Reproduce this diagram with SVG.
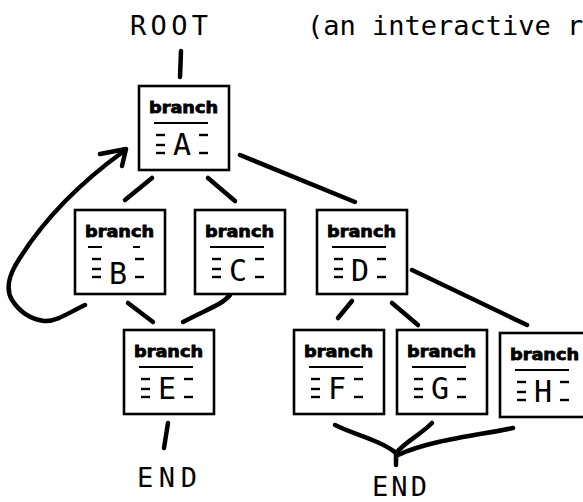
<svg xmlns="http://www.w3.org/2000/svg" xmlns:xlink="http://www.w3.org/1999/xlink" width="583" height="502" viewBox="0 0 583 502">
  <style>
    .box { fill: #fff; stroke: #000; stroke-width: 2.6; }
    .conn { fill: none; stroke: #000; stroke-width: 4.5; stroke-linecap: round; stroke-linejoin: round; }
    .dash { stroke: #000; stroke-width: 2.4; }
    .rule { stroke: #000; stroke-width: 2; }
    .big { font-family: "DejaVu Sans Mono", "Liberation Mono", monospace; font-size: 27px; fill: #000; }
    .letter { font-family: "DejaVu Sans Mono", "Liberation Mono", monospace; font-size: 30px; fill: #000; text-anchor: middle; }
    .tag { font-family: "DejaVu Sans", "Liberation Sans", sans-serif; font-weight: 900; font-size: 16px; fill: #000; stroke: #000; stroke-width: 0.8; }
  </style>
  <defs>
    <!-- card frame: border, "branch" heading and the side ticks -->
    <g id="card">
      <rect class="box" x="0" y="0" width="90" height="84"/>
      <text class="tag" x="10" y="27" textLength="69" lengthAdjust="spacingAndGlyphs">branch</text>
      <line class="dash" x1="17" y1="49" x2="26" y2="49"/>
      <line class="dash" x1="17" y1="59" x2="26" y2="59"/>
      <line class="dash" x1="17" y1="67" x2="26" y2="67"/>
      <line class="dash" x1="60" y1="49" x2="69" y2="49"/>
      <line class="dash" x1="60" y1="67" x2="69" y2="67"/>
    </g>
  </defs>

  <rect width="583" height="502" fill="#fff"/>

  <!-- headings -->
  <text class="big" x="130" y="35" textLength="78">ROOT</text>
  <text class="big" x="307" y="35">(an interactive r</text>
  <text class="big" x="137" y="487" textLength="60">END</text>
  <text class="big" x="372" y="496" textLength="55">END</text>

  <!-- connectors -->
  <g id="connectors">
    <path class="conn" d="M181,51 L180,77"/>
    <path class="conn" d="M152,178 L125,200"/>
    <path class="conn" d="M208,178 L235,201"/>
    <path class="conn" d="M240,155 L355,202"/>
    <path class="conn" d="M412,270 L527,325"/>
    <path class="conn" d="M352,301 L338,318"/>
    <path class="conn" d="M392,303 L418,325"/>
    <path class="conn" d="M128,303 L153,322"/>
    <path class="conn" d="M230,295 C222,305 205,310 183,322"/>
    <path class="conn" d="M85,305 C70,312 56,322 44,321 C30,319 19,311 12,300 C6,290 8,279 15,266 C35,232 70,190 124,151"/>
    <path class="conn" d="M100,154 L126,149 L122,166"/>
    <path class="conn" d="M168,423 L164,448"/>
    <path class="conn" d="M335,425 C355,435 380,440 396,453"/>
    <path class="conn" d="M432,423 C420,435 405,442 396,453"/>
    <path class="conn" d="M513,428 C480,435 430,440 398,455"/>
    <path class="conn" d="M396,453 L396,465"/>
  </g>

  <!-- nodes -->
  <g id="node-A" transform="translate(139,86)">
    <use xlink:href="#card"/>
    <line class="rule" x1="15" y1="37" x2="69" y2="37"/>
    <text class="letter" x="43" y="69">A</text>
  </g>
  <g id="node-B" transform="translate(75,210)">
    <use xlink:href="#card"/>
    <line class="rule" x1="13" y1="37" x2="27" y2="37"/>
    <line class="rule" x1="58" y1="37" x2="65" y2="37"/>
    <text class="letter" x="43" y="74">B</text>
  </g>
  <g id="node-C" transform="translate(195,210)">
    <use xlink:href="#card"/>
    <line class="rule" x1="15" y1="37" x2="69" y2="37"/>
    <text class="letter" x="43" y="71">C</text>
  </g>
  <g id="node-D" transform="translate(317,210)">
    <use xlink:href="#card"/>
    <line class="rule" x1="15" y1="37" x2="69" y2="37"/>
    <text class="letter" x="43" y="71">D</text>
  </g>
  <g id="node-E" transform="translate(124,330)">
    <use xlink:href="#card"/>
    <line class="rule" x1="15" y1="37" x2="69" y2="37"/>
    <text class="letter" x="43" y="69">E</text>
  </g>
  <g id="node-F" transform="translate(294,330)">
    <use xlink:href="#card"/>
    <line class="rule" x1="15" y1="37" x2="69" y2="37"/>
    <text class="letter" x="43" y="69">F</text>
  </g>
  <g id="node-G" transform="translate(397,330)">
    <use xlink:href="#card"/>
    <line class="rule" x1="15" y1="37" x2="69" y2="37"/>
    <text class="letter" x="43" y="69">G</text>
  </g>
  <g id="node-H" transform="translate(500,333)">
    <use xlink:href="#card"/>
    <line class="rule" x1="15" y1="37" x2="69" y2="37"/>
    <text class="letter" x="43" y="69">H</text>
  </g>
</svg>
